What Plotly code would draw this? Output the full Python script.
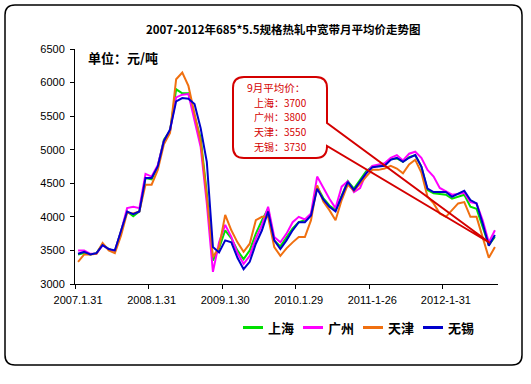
import plotly.graph_objects as go

# ---------------- data ----------------
months = list(range(69))  # 2007-01 .. 2012-09, monthly
tick_pos = [0, 12, 24, 36, 48, 60]
tick_labels = ["2007.1.31", "2008.1.31", "2009.1.30", "2010.1.29", "2011-1-26", "2012-1-31"]

shanghai = [3440, 3460, 3440, 3460, 3590, 3520, 3490, 3770, 4080, 4010, 4080, 4580,
            4560, 4750, 5150, 5280, 5900, 5840, 5840, 5500, 5170, 4350, 3350, 3530,
            3800, 3680, 3500, 3370, 3500, 3750, 3950, 4120, 3650, 3560, 3700, 3830,
            3920, 3950, 4040, 4450, 4280, 4170, 4100, 4320, 4530, 4420, 4550, 4680,
            4750, 4760, 4770, 4860, 4870, 4820, 4890, 4920, 4750, 4400, 4350, 4340,
            4330, 4270, 4300, 4330, 4150, 4120, 3850, 3580, 3700]
guangzhou = [3500, 3500, 3450, 3450, 3580, 3520, 3490, 3780, 4130, 4150, 4130, 4640,
             4600, 4770, 5130, 5280, 5780, 5820, 5830, 5450, 5040, 4200, 3180, 3620,
             3880, 3700, 3460, 3300, 3420, 3680, 3880, 4150, 3700, 3620, 3750, 3920,
             4000, 3960, 4050, 4600, 4430, 4270, 4130, 4450, 4530, 4370, 4430, 4650,
             4760, 4780, 4800, 4880, 4920, 4840, 4940, 4970, 4880, 4700, 4600, 4430,
             4380, 4330, 4340, 4360, 4220, 4200, 3950, 3620, 3800]
tianjin = [3330, 3440, 3440, 3450, 3610, 3500, 3460, 3720, 4060, 4050, 4080, 4480,
           4480, 4700, 5080, 5250, 6050, 6150, 5950, 5540, 5120, 4300, 3400, 3550,
           4030, 3800, 3620, 3480, 3600, 3950, 4000, 4000, 3550, 3420, 3530, 3620,
           3700, 3700, 3950, 4470, 4230, 4100, 3950, 4250, 4480, 4390, 4500, 4600,
           4700, 4700, 4720, 4760, 4720, 4650, 4780, 4850, 4660, 4300, 4200, 4050,
           4000, 4100, 4200, 4220, 4000, 4000, 3700, 3390, 3550]
wuxi = [3450, 3480, 3440, 3460, 3580, 3520, 3500, 3780, 4080, 4040, 4080, 4580,
        4580, 4750, 5130, 5300, 5720, 5770, 5760, 5680, 5320, 4820, 3550, 3470,
        3650, 3620, 3390, 3220, 3330, 3600, 3800, 4080, 3650, 3520, 3650, 3800,
        3920, 3920, 4020, 4420, 4260, 4150, 4080, 4300, 4520, 4400, 4520, 4650,
        4740, 4750, 4760, 4850, 4880, 4820, 4880, 4920, 4750, 4420, 4370, 4370,
        4370, 4300, 4340, 4390, 4250, 4200, 3900, 3570, 3730]

series_names = ["上海", "广州", "天津", "无锡"]
series_values = [shanghai, guangzhou, tianjin, wuxi]
series_colors = ["#00e000", "#ff00ff", "#f07010", "#0000cc"]

sept_label = "9月平均价："
sept_values = [3700, 3800, 3550, 3730]

# ---------------- layout helpers ----------------
W, H = 531, 384
PL, PR, PT, PB = 75, 498, 49, 284  # plot area in px


def px(x):
    return (x - PL) / (PR - PL)


def py(y):
    return (PB - y) / (PB - PT)


fig = go.Figure()
for name, vals, col in zip(series_names, series_values, series_colors):
    fig.add_trace(go.Scatter(x=months, y=vals, mode="lines", name=name,
                             line=dict(color=col, width=2), showlegend=False))

CJK = "Noto Sans CJK SC"
red = "#d40000"

shapes = []
# outer rounded border
bx0, by0, bx1, by1, r = 5, 5, 522, 365, 10
path = (f"M {px(bx0 + r)},{py(by0)} L {px(bx1 - r)},{py(by0)} "
        f"Q {px(bx1)},{py(by0)} {px(bx1)},{py(by0 + r)} L {px(bx1)},{py(by1 - r)} "
        f"Q {px(bx1)},{py(by1)} {px(bx1 - r)},{py(by1)} L {px(bx0 + r)},{py(by1)} "
        f"Q {px(bx0)},{py(by1)} {px(bx0)},{py(by1 - r)} L {px(bx0)},{py(by0 + r)} "
        f"Q {px(bx0)},{py(by0)} {px(bx0 + r)},{py(by0)} Z")
shapes.append(dict(type="path", xref="paper", yref="paper", path=path,
                   line=dict(color="black", width=1.5), layer="above"))

# callout box with tail
cx0, cy0, cx1, cy1, cr = 233, 77, 327, 158, 11
tip_x, tip_y = 490, 243
t1, t2 = 123, 146
cpath = (f"M {px(cx0 + cr)},{py(cy0)} L {px(cx1 - cr)},{py(cy0)} "
         f"Q {px(cx1)},{py(cy0)} {px(cx1)},{py(cy0 + cr)} L {px(cx1)},{py(t1)} "
         f"L {px(tip_x)},{py(tip_y)} L {px(cx1)},{py(t2)} "
         f"Q {px(cx1)},{py(cy1)} {px(cx1 - cr)},{py(cy1)} L {px(cx0 + cr)},{py(cy1)} "
         f"Q {px(cx0)},{py(cy1)} {px(cx0)},{py(cy1 - cr)} L {px(cx0)},{py(cy0 + cr)} "
         f"Q {px(cx0)},{py(cy0)} {px(cx0 + cr)},{py(cy0)} Z")
shapes.append(dict(type="path", xref="paper", yref="paper", path=cpath,
                   line=dict(color=red, width=2), layer="above"))

annotations = [
    dict(text="<b>2007-2012年685*5.5规格热轧中宽带月平均价走势图</b>", xref="paper", yref="paper",
         x=px(283), y=py(29), showarrow=False, font=dict(family=CJK, size=11.5, color="black"),
         xanchor="center", yanchor="middle"),
    dict(text="<b>单位：元/吨</b>", xref="paper", yref="paper", x=px(86), y=py(57),
         showarrow=False, font=dict(family=CJK, size=13, color="black"),
         xanchor="left", yanchor="middle"),
    dict(text=sept_label, xref="paper", yref="paper", x=px(245), y=py(87),
         showarrow=False, font=dict(family=CJK, size=10.5, color=red),
         xanchor="left", yanchor="middle"),
]
for i, (n, v) in enumerate(zip(series_names, sept_values)):
    annotations.append(dict(text=f"{n}：{v}", xref="paper", yref="paper",
                            x=px(252), y=py(102 + 14.8 * i), showarrow=False,
                            font=dict(family=CJK, size=10, color=red),
                            xanchor="left", yanchor="middle"))

# manual legend (short line samples like the original)
leg_x = [243, 303, 363, 423]
leg_y = 327.5
for x0, n, col in zip(leg_x, series_names, series_colors):
    shapes.append(dict(type="line", xref="paper", yref="paper",
                       x0=px(x0), x1=px(x0 + 20), y0=py(leg_y), y1=py(leg_y),
                       line=dict(color=col, width=3)))
    annotations.append(dict(text=f"<b>{n}</b>", xref="paper", yref="paper",
                            x=px(x0 + 23), y=py(leg_y), showarrow=False,
                            font=dict(family=CJK, size=13, color="black"),
                            xanchor="left", yanchor="middle"))

fig.update_layout(
    width=W, height=H,
    margin=dict(l=PL, r=W - PR, t=PT, b=H - PB),
    paper_bgcolor="white", plot_bgcolor="white",
    showlegend=False,
    xaxis=dict(range=[-0.5, 68.5], tickmode="array", tickvals=tick_pos, ticktext=tick_labels,
               ticks="", showgrid=False, zeroline=False, showline=True, linecolor="black",
               linewidth=1, ticklabelstandoff=6,
               tickfont=dict(family="Liberation Sans, Arial", size=11, color="black"),
               minor=dict(tickmode="linear", tick0=-0.5, dtick=12, ticks="outside",
                          ticklen=4, tickcolor="black", showgrid=False)),
    yaxis=dict(range=[3000, 6500], dtick=500, tick0=3000, ticks="outside", ticklen=4,
               tickcolor="black", showgrid=False, zeroline=False, showline=True,
               linecolor="black", linewidth=1, ticklabelstandoff=3,
               tickfont=dict(family="Liberation Sans, Arial", size=11, color="black")),
    shapes=shapes, annotations=annotations,
)

fig.write_html("out.html", config={"displayModeBar": False},
               post_script="document.body.style.margin='0';document.body.style.padding='0';")
